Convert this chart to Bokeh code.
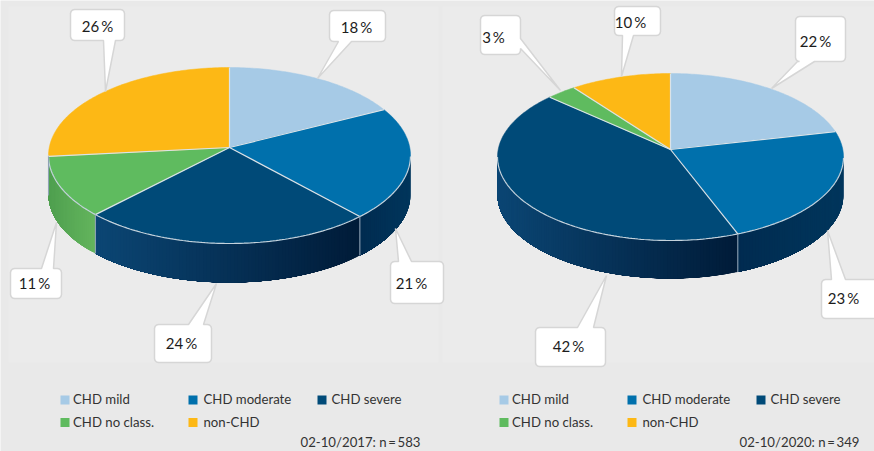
import math
from bokeh.plotting import figure
from bokeh.models import Range1d
from bokeh.core.properties import value
from bokeh.embed import file_html
from bokeh.resources import INLINE

# ---- data ----
categories = ["CHD mild", "CHD moderate", "CHD severe", "CHD no class.", "non-CHD"]
values_2017 = [18, 21, 24, 11, 26]
values_2020 = [22, 23, 42, 3, 10]
footer_2017 = "02-10/2017: n\u2009=\u2009583"
footer_2020 = "02-10/2020: n\u2009=\u2009349"

# ---- styles ----
colors = ["#a6cae6", "#0070ac", "#004a78", "#5fbb5f", "#fdb815"]
wall_left = ["#8fb4d0", "#002b50", "#0b4674", "#4f9f4f", "#e0a010"]
wall_right = ["#8fb4d0", "#00365c", "#001b38", "#63b55d", "#e0a010"]
BG = "#e9e9e9"
PANEL = "#ebebeb"
SEP = "#dbe3e8"
FONT = "Lato"

p = figure(width=874, height=451, output_backend="svg", toolbar_location=None,
           x_range=Range1d(0, 874), y_range=Range1d(451, 0),
           min_border=0, outline_line_color=None, background_fill_color=BG,
           border_fill_color=BG)
p.axis.visible = False
p.grid.visible = False

p.quad(left=[8, 442], right=[438, 874], top=[6, 6], bottom=[362, 362],
       fill_color=PANEL, line_color=None)


def lerp_hex(a, b, t):
    ca = [int(a[i:i + 2], 16) for i in (1, 3, 5)]
    cb = [int(b[i:i + 2], 16) for i in (1, 3, 5)]
    return "#%02x%02x%02x" % tuple(round(x + (y - x) * t) for x, y in zip(ca, cb))


def draw_pie(vals, cx, ay, rx, ytop, ybot, depth):
    up, down = ay - ytop, ybot - ay
    k = (down - up) / (down + up)
    b = up * (1 + k)
    c = rx * math.sqrt(1 - k * k)

    def pt(deg):
        # the source chart's 3D view pulls slice edges slightly towards the start
        th = math.radians(deg - 3 * math.sin(math.radians(deg / 2)))
        u, v = math.sin(th), math.cos(th)
        w = 1 + k * v
        return cx + c * u / w, ay - b * v / w

    lo = math.degrees(math.acos(-k)) + 2.9
    hi = 360 - math.degrees(math.acos(-k)) + 2.2
    edges = [0]
    for v in vals:
        edges.append(edges[-1] + v * 3.6)

    # walls: overlapping strips, each later strip overpaints the previous one
    for i, col in enumerate(colors):
        a0, a1 = max(edges[i], lo), min(edges[i + 1], hi)
        if a1 <= a0:
            continue
        n = max(2, int((a1 - a0) / 1.0))
        step = (a1 - a0) / n
        xs, ys, cols = [], [], []
        x_first, x_last = pt(a0)[0], pt(a1)[0]
        span = abs(x_last - x_first) or 1
        for j in range(n):
            d0, d1 = a0 + j * step, a0 + (j + 1) * step
            x0 = pt(d0)[0]
            x1 = pt(d1)[0]
            arc = [pt(d0 + (a1 - d0) * m / 12) for m in range(13)]
            xs.append([q[0] for q in arc] + [q[0] for q in reversed(arc)])
            ys.append([q[1] for q in arc] + [q[1] + depth for q in reversed(arc)])
            mid = (x0 + x1) / 2
            cols.append(lerp_hex(wall_left[i], wall_right[i], (mid - min(x_first, x_last)) / span))
        p.patches(xs, ys, fill_color=cols, line_color=None)

    # top surface
    for i, col in enumerate(colors):
        n = max(4, int(vals[i] * 3.6))
        pts = [pt(edges[i] + (edges[i + 1] - edges[i]) * j / n) for j in range(n + 1)]
        p.patch([cx] + [q[0] for q in pts], [ay] + [q[1] for q in pts],
                fill_color=col, line_color=col, line_width=0.5)

    # front rim highlight
    n = 180
    arc = [pt(lo + (hi - lo) * j / n) for j in range(n + 1)]
    p.line([q[0] for q in arc], [q[1] for q in arc], line_color="#c4d2dc", line_width=1.2)

    # slice separators and wall seams
    for e in edges[:-1]:
        x, y = pt(e)
        p.line([cx, x], [ay, y], line_color=SEP, line_width=1.2)
        if lo < (e % 360) < hi:
            p.line([x, x], [y, y + depth], line_color="#8ea2b4", line_width=1.1)


draw_pie(values_2017, 229, 147, 181, 67, 243, 39)
draw_pie(values_2020, 670, 149, 173, 73, 240, 38)


def callout(x0, y0, x1, y1, side, base, tip, r=4):
    """Rounded box with a tail; the outline runs clockwise from the top-left."""
    def corner(cx, cy, a0):
        return [(cx + r * math.cos(math.radians(a0 + d)), cy + r * math.sin(math.radians(a0 + d)))
                for d in (0, 30, 60, 90)]
    out = []
    out += corner(x0 + r, y0 + r, 180)
    if side == "top":
        out += [(base[0], y0), tip, (base[1], y0)]
    out += corner(x1 - r, y0 + r, 270)
    if side == "right":
        out += [(x1, base[0]), tip, (x1, base[1])]
    out += corner(x1 - r, y1 - r, 0)
    if side == "bottom":
        out += [(base[1], y1), tip, (base[0], y1)]
    out += corner(x0 + r, y1 - r, 90)
    p.patch([q[0] for q in out], [q[1] for q in out], fill_color="white",
            line_color="#d6d6d6", line_width=1.5)


# box x0, y0, x1, y1, tail side, tail base, tail tip, label centre, value
callouts = [
    (70, 9, 124, 40, "bottom", (103, 115), (105, 91), (97, 25), values_2017[4]),
    (329, 10, 385, 41, "bottom", (338, 351), (317, 78), (356, 26), values_2017[0]),
    (10, 268, 61, 298, "top", (41, 53), (56, 222), (34, 282), values_2017[3]),
    (390, 261, 443, 303, "top", (398, 411), (395, 228), (411, 282), values_2017[1]),
    (154, 324, 211, 362, "top", (188, 203), (216, 283), (181, 342), values_2017[2]),
    (480, 15, 520, 54, "right", (38, 48), (560, 90), (493, 36), values_2020[3]),
    (614, 6, 660, 35, "bottom", (622, 633), (621, 76), (630, 21), values_2020[4]),
    (795, 16, 845, 61, "bottom", (797, 814), (771, 88), (815, 40), values_2020[0]),
    (821, 279, 880, 318, "top", (831, 845), (827, 230), (843, 297), values_2020[1]),
    (535, 327, 605, 366, "top", (577, 593), (606, 275), (568, 345), values_2020[2]),
]
for c in callouts:
    callout(*c[:7])
p.text(x=[c[7][0] for c in callouts], y=[c[7][1] for c in callouts],
       text=[f"{c[8]}\u2009%" for c in callouts], text_font=value(FONT), text_font_size="15px",
       text_color="#1c1c1c", text_align="center", text_baseline="middle")

# legends
legend_cols = [(60, 188, 317), (499, 627, 756)]
text_off = [12.5, 15, 14]
rows = [399.5, 422]
for xs3 in legend_cols:
    for i, name in enumerate(categories):
        col = i % 3
        x = xs3[col]
        y = rows[i // 3]
        p.rect([x + 4.5], [y], width=9, height=9, fill_color=colors[i], line_color=None)
        p.text([x + text_off[col]], [y - 1], text=[name], text_font=value(FONT),
               text_font_size="13.2px", text_color="#333333", text_align="left",
               text_baseline="middle")

p.text([420, 859], [441, 441], text=[footer_2017, footer_2020], text_font=value(FONT),
       text_font_size="13.2px", text_color="#333333", text_align="right", text_baseline="middle")

open("out.html", "w").write(file_html(p, INLINE))
